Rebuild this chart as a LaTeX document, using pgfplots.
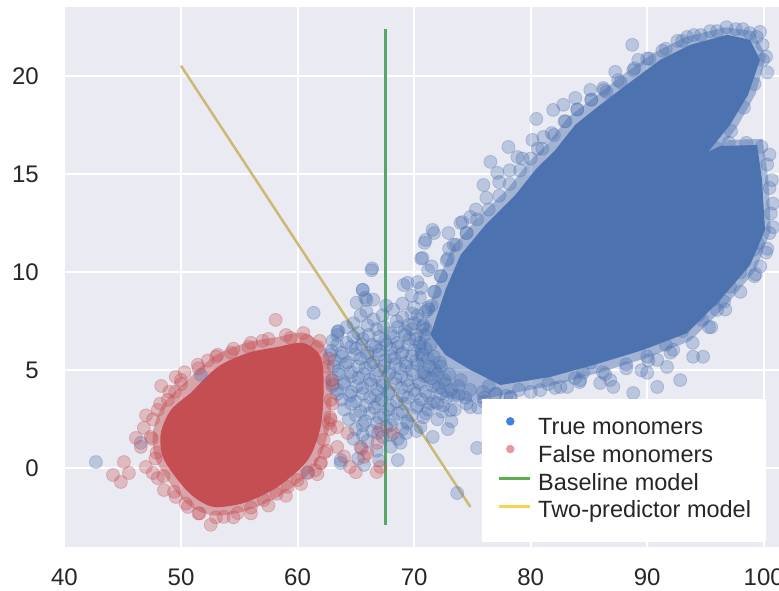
\documentclass[border=0pt]{standalone}
\usepackage{fontspec}
\setmainfont{Liberation Sans}
\usepackage{pgfplots}
\pgfplotsset{compat=1.18}
\definecolor{bgc}{HTML}{EAEAF2}
\definecolor{sbblue}{HTML}{4C72B0}
\definecolor{sbred}{HTML}{C44E52}
\definecolor{sbgreen}{HTML}{55A868}
\definecolor{sbyellow}{HTML}{CCB974}
\definecolor{lgblue}{HTML}{3F7FE6}
\definecolor{lgred}{HTML}{E8979A}
\definecolor{lggreen}{HTML}{5EAD4F}
\definecolor{lgyellow}{HTML}{F9D24F}
\definecolor{txt}{HTML}{262626}
\begin{document}
\begin{tikzpicture}
\begin{axis}[
  scale only axis, width=715pt, height=540.3pt,
  xmin=39.96, xmax=101.31, ymin=-4.03, ymax=23.53,
  axis background/.style={fill=bgc},
  axis line style={draw=none},
  major tick length=0pt,
  grid=major, major grid style={white, line width=2pt},
  xtick={40,50,...,100}, ytick={0,5,...,20},
  tick label style={font=\fontsize{24}{28}\selectfont, text=txt},
  /pgf/number format/assume math mode=true,
  xticklabel style={inner ysep=0pt, yshift=-21pt},
  yticklabel style={inner xsep=0pt, xshift=-25pt},
  legend cell align=left,
  legend style={at={(0.5846,0.0098)}, anchor=south west, fill=white, draw=none,
    inner xsep=15pt, inner ysep=16pt, row sep=0pt, column sep=7pt,
    font=\fontsize{23.5}{28}\selectfont, text=txt,
    nodes={inner xsep=0pt, inner ysep=3.6pt, text height=16pt, text depth=4.5pt},
    column 2/.style={nodes={text width=260pt}}},
]
\coordinate (sw) at (rel axis cs:0,0);
\coordinate (ne) at (rel axis cs:1,1);
% half-dense halo of true monomers
\addplot[forget plot, fill=sbblue, fill opacity=0.45, draw=none] coordinates {
(70.7,7.0) (71.9,9.4) (73.3,11.3) (75.5,12.8) (78.1,14.3) (79.8,15.6) (81.5,16.6) (83.2,17.9)
(85.4,18.9) (88.2,20.2) (90.6,21.2) (93.3,22.0) (96.7,22.5) (99.1,22.3) (100.2,21.0) (99.3,19.1)
(97.8,17.5) (96.6,16.5) (97.0,16.75) (99.9,16.8) (100.4,14.7) (100.6,12.1) (99.3,10.1) (96.6,8.2)
(93.7,6.5) (89.8,5.6) (86.0,4.9) (81.7,4.2) (77.3,3.7) (75.0,3.4) (72.5,3.6) (70.5,4.6) (70.0,6.0)
};
% dense core of true monomers
\addplot[forget plot, fill=sbblue, draw=none] coordinates {
(71.41,6.80) (72.69,9.10) (73.98,10.88) (76.12,12.41) (78.69,13.94) (80.40,15.22)
(82.12,16.24) (83.83,17.52) (85.97,18.54) (88.80,19.81) (91.11,20.83) (93.68,21.60)
(96.86,22.11) (98.83,21.85) (99.68,20.83) (98.65,19.05) (97.11,17.52) (95.23,16.14)
(96.26,16.44) (99.43,16.49) (99.85,14.71) (100.11,12.16) (98.83,10.37) (96.26,8.59)
(93.43,6.90) (89.66,6.04) (85.97,5.37) (81.69,4.66) (77.40,4.25) (74.83,5.02) (72.69,5.78)
};
% true monomers, individual points
\addplot[forget plot, only marks, mark=*, mark size=6.5pt,
  mark options={fill=sbblue, draw=sbblue, opacity=0.3, line width=0.8pt}] coordinates {
(66.5,8.6) (69.0,8.4) (70.5,8.7) (71.5,8.3)
(65.9,8.0) (68.2,8.1) (69.8,7.9) (71.0,8.0)
(64.8,7.4) (66.5,7.6) (68.5,7.5) (69.5,7.3) (70.5,7.6)
(63.5,7.0) (65.2,6.9) (66.8,7.1) (68.0,6.9) (69.2,7.0) (70.2,6.8) (71.0,7.1)
(63.0,6.5) (64.2,6.4) (65.6,6.6) (66.4,6.3) (67.5,6.5) (68.6,6.4) (69.6,6.6) (70.5,6.4)
(62.9,6.0) (63.8,5.9) (65.0,6.1) (66.0,5.9) (67.0,6.0) (68.0,6.1) (69.0,5.9) (70.0,6.0) (71.0,6.1)
(63.2,5.5) (64.3,5.4) (65.4,5.6) (66.5,5.4) (67.5,5.5) (68.3,5.6) (69.3,5.4) (70.2,5.5) (71.2,5.6) (72.2,5.4)
(63.5,5.0) (64.6,4.9) (65.8,5.1) (66.9,5.0) (67.9,4.9) (68.8,5.1) (69.8,5.0) (70.8,4.9) (71.8,5.0)
(63.0,4.5) (64.0,4.4) (65.2,4.6) (66.2,4.5) (67.3,4.4) (68.4,4.6) (69.4,4.5) (70.4,4.4) (71.5,4.6) (72.6,4.5)
(63.4,4.0) (64.6,3.9) (65.6,4.1) (66.8,4.0) (67.8,3.9) (68.9,4.1) (70.0,4.0) (71.0,3.9) (72.1,4.1) (73.2,4.0)
(63.8,3.5) (65.0,3.4) (66.2,3.6) (67.2,3.5) (68.5,3.4) (69.5,3.6) (70.6,3.5) (71.7,3.4) (72.8,3.6)
(64.0,3.0) (65.4,2.9) (66.6,3.1) (67.8,3.0) (69.0,2.9) (70.2,3.1) (71.2,3.0) (72.4,2.9)
(64.4,2.5) (65.8,2.4) (67.0,2.6) (68.2,2.5) (69.4,2.4) (70.8,2.6)
(65.0,2.0) (66.4,1.9) (67.6,2.1) (69.0,2.0) (70.2,1.9)
(64.8,1.5) (66.0,1.4) (67.3,1.6) (68.6,1.5)
(65.5,1.0) (66.8,0.9) (68.0,1.1)
(65.2,0.5) (67.0,0.4)
(67.6,8.3) (70.0,8.2)
(65.4,7.8) (67.3,7.8) (69.0,7.7) (70.3,7.8)
(64.2,7.2) (66.0,7.3) (67.4,7.2) (68.6,7.2) (69.8,7.1) (70.8,7.3)
(63.4,6.8) (64.8,6.7) (66.1,6.8) (67.0,6.7) (68.2,6.7) (69.2,6.8) (70.1,6.6) (70.9,6.8)
(63.4,6.3) (64.6,6.2) (65.5,6.3) (66.7,6.2) (67.6,6.3) (68.6,6.2) (69.5,6.3) (70.5,6.2) (71.4,6.3)
(62.8,5.8) (63.8,5.7) (64.9,5.8) (66.0,5.7) (67.0,5.8) (68.0,5.7) (68.9,5.8) (69.8,5.7) (70.7,5.8) (71.7,5.7)
(63.1,5.2) (64.1,5.3) (65.2,5.2) (66.3,5.3) (67.4,5.2) (68.4,5.3) (69.3,5.2) (70.3,5.3) (71.3,5.2) (72.3,5.2)
(63.5,4.8) (64.6,4.7) (65.7,4.8) (66.7,4.7) (67.8,4.8) (68.9,4.7) (69.9,4.8) (70.9,4.7) (72.0,4.8) (73.0,4.8)
(63.0,4.2) (64.0,4.3) (65.1,4.2) (66.3,4.3) (67.3,4.2) (68.4,4.3) (69.5,4.2) (70.5,4.3) (71.6,4.2) (72.7,4.3) (73.8,4.2)
(63.4,3.8) (64.5,3.7) (65.6,3.8) (66.7,3.7) (67.8,3.8) (69.0,3.7) (70.1,3.8) (71.2,3.7) (72.3,3.8) (73.4,3.7) (74.4,3.6)
(64.6,3.3) (65.8,3.2) (66.9,3.3) (68.0,3.2) (69.2,3.3) (70.3,3.2) (71.4,3.3) (72.5,3.2)
(65.0,2.7) (66.2,2.8) (67.4,2.7) (68.6,2.8) (69.8,2.7) (71.0,2.8)
(65.6,2.2) (66.8,2.3) (68.0,2.2) (69.4,2.3)
(65.6,1.7) (66.9,1.8) (68.0,1.7)
(70.0,7.4) (71.2,8.2) (71.8,9.0) (72.3,9.8) (72.8,10.6) (73.4,11.4) (70.6,9.2) (69.8,8.8) (71.5,10.3)
(73.5,3.0) (74.5,3.3) (75.5,3.1) (72.0,2.5) (73.2,2.4) (73.8,3.7) (74.8,4.0) (76.0,3.6) (76.4,4.2) (77.0,3.8) (78.3,3.6) (79.0,4.0)
(68.6,0.42) (63.7,0.42) (75.4,1.04) (73.7,-1.26) (74.83,3.12) (73.12,2.97) (70.55,2.11) (68.84,1.30)
(63.7,0.27) (65.7,0.17) (60.9,-0.2) (69.3,1.8) (71.6,1.6) (72.9,2.0) (72.0,3.33)
(42.7,0.32) (61.38,7.93) (63.43,6.96) (46.55,1.3) (51.7,4.77) (66.4,10.2) (65.6,9.1) (65.8,8.7)
(66.35,10.1) (65.58,9.1) (65.07,8.45) (65.92,8.59) (69.1,9.35) (70.3,9.5) (71.2,10.1) (70.6,10.7)
(71.7,12.0) (70.9,11.5) (69.44,9.46) (70.72,10.73) (70.98,11.65) (71.58,12.16) (72.95,12.0)
(74.15,12.56) (73.98,12.51) (74.83,12.82) (75.95,14.45) (76.55,15.63) (77.14,15.07) (78.09,16.39)
(78.86,15.88) (80.15,16.75) (80.49,17.82) (81.09,16.9) (81.94,18.28) (82.8,18.54) (83.83,18.89)
(85.12,19.3) (86.23,19.4) (87.26,20.22) (88.72,21.6) (89.23,20.83) (93.43,22.0) (99.68,22.26) (99.94,20.83)
(73.0,11.2) (74.5,12.0) (75.3,13.2) (76.2,13.8) (77.3,14.6) (78.2,15.2) (79.3,15.8) (80.6,16.3)
(81.8,17.1) (82.9,17.7) (84.0,18.3) (85.2,18.8) (86.5,19.2) (87.7,19.7) (88.9,20.4) (90.2,20.9)
(91.6,21.4) (93.0,21.8) (94.6,22.1) (96.0,22.3) (97.6,22.4) (98.8,22.2) (99.9,21.6) (100.3,20.2)
(99.2,19.6) (98.3,18.4) (97.2,17.2) (96.0,16.3) (97.0,16.6) (98.5,16.6) (99.8,16.4)
(100.3,15.5) (100.5,14.3) (100.6,13.0) (100.5,12.0) (100.2,11.0) (99.7,10.3) (99.2,9.8)
(92.83,4.50) (93.94,5.69) (94.8,5.69) (96.0,8.08) (91.7,5.17) (90.86,4.15) (88.8,3.84) (86.83,4.50)
(84.5,4.87) (83.14,4.15) (85.12,5.38) (90.0,4.87) (92.23,6.04) (97.11,9.26) (99.08,11.14) (94.71,7.57)
(90.86,5.53) (87.09,4.15) (85.97,4.35) (84.26,4.50) (82.55,4.15) (80.83,3.99) (78.26,3.64)
(81.5,4.3) (83.8,4.6) (86.2,4.9) (88.2,5.3) (90.0,5.7) (91.6,6.3) (93.0,7.0) (94.4,7.8) (95.7,8.6)
(97.0,9.6) (98.3,10.6) (77.0,3.8) (76.0,3.4) (89.5,5.0) (95.5,7.2) (96.6,8.5) (98.0,10.0) (99.5,11.5)
(70.7,7.2) (71.2,8.1) (71.7,9.0) (72.3,9.8) (72.9,10.7) (73.6,11.4) (74.5,12.0) (75.4,12.7)
(76.4,13.2) (77.3,13.9) (78.2,14.5) (79.1,15.2) (80.0,15.8) (81.0,16.3) (82.0,17.0) (83.0,17.7)
(84.0,18.3) (85.2,18.8) (86.3,19.3) (87.5,19.8) (88.8,20.3) (90.0,20.9) (91.3,21.3) (92.6,21.8)
(94.0,22.1) (95.4,22.3) (96.8,22.5) (98.2,22.4) (99.4,22.0) (100.2,21.0)
(99.3,9.9) (98.0,9.0) (96.7,8.1) (95.3,7.2) (93.9,6.4) (92.0,5.9) (90.1,5.5) (88.2,5.1)
(86.4,4.8) (84.2,4.4) (82.1,4.1) (80.0,3.9) (77.9,3.7) (75.9,3.9) (74.0,4.5)
(100.5,16.0) (100.7,14.7) (100.8,13.5) (100.8,12.3) (100.3,11.2)
};
% half-dense halo of false monomers
\addplot[forget plot, fill=sbred, fill opacity=0.45, draw=none, smooth] coordinates {
(50.2,4.3) (52.8,5.7) (55.6,6.4) (58.3,6.7) (60.6,6.9) (62.5,6.0) (62.9,4.2) (62.7,2.0)
(61.4,0.0) (58.5,-1.4) (55.4,-2.2) (52.7,-2.4) (50.7,-1.9) (49.2,-0.9) (47.8,0.5) (47.6,1.9)
(48.5,3.3) (50.2,4.3)
};
% dense core of false monomers
\addplot[forget plot, fill=sbred, draw=none, smooth] coordinates {
(50.84,3.84) (53.15,5.17) (55.72,5.88) (58.29,6.19) (60.52,6.39) (61.98,5.68) (62.24,4.15)
(61.98,2.11) (60.87,0.42) (58.29,-0.95) (55.38,-1.77) (52.81,-1.97) (51.10,-1.46) (49.73,-0.60)
(48.44,0.58) (48.27,1.80) (49.13,2.97) (50.84,3.84)
};
% false monomers, individual points
\addplot[forget plot, only marks, mark=*, mark size=6.5pt,
  mark options={fill=sbred, draw=sbred, opacity=0.3, line width=0.8pt}] coordinates {
(58.12,7.57) (59.41,6.65) (57.0,6.5) (55.8,6.2) (53.15,5.79) (51.44,5.28) (52.3,5.5) (54.3,5.9)
(49.55,4.66) (50.3,4.9) (48.87,3.49) (48.01,2.98) (49.5,3.9) (46.81,2.06) (46.13,1.55) (46.55,1.09)
(47.4,1.6) (46.98,0.07) (47.58,-0.24) (45.10,0.32) (44.16,-0.34) (44.84,-0.70) (45.53,-0.24)
(48.53,-1.11) (49.55,-1.46) (50.58,-1.97) (51.5,-2.3) (52.55,-2.88) (53.66,-2.48) (54.86,-2.28)
(56.0,-2.0) (57.09,-1.62) (58.2,-1.3) (59.15,-0.95) (60.0,-0.6) (60.87,-0.24) (61.98,0.27)
(62.5,0.9) (62.24,1.45) (62.84,2.47) (62.84,3.49) (63.0,4.3) (62.58,5.17) (61.72,6.19) (60.8,6.5)
(47.9,0.8) (48.0,-0.5) (47.0,2.7) (48.3,4.2) (50.0,4.3)
(64.3,1.8) (66.0,0.78) (67.1,1.96) (66.85,1.3) (65.4,1.09) (67.1,0.07) (62.0,0.27) (63.4,2.1)
(62.8,2.6) (66.8,-0.19) (65.7,0.58) (68.2,1.80) (64.5,0.07) (63.4,1.09) (62.67,2.30) (61.7,-0.3)
(64.0,0.6) (65.0,-0.2)
(50.0,4.5) (51.5,5.1) (53.0,5.7) (54.5,6.1) (56.0,6.4) (57.5,6.6) (59.0,6.8) (60.5,6.9) (61.9,6.5)
(62.7,5.6) (62.9,4.5) (63.0,3.3) (62.8,2.0) (62.3,0.8) (61.5,-0.1) (60.3,-0.8) (59.0,-1.4)
(57.5,-1.9) (56.0,-2.3) (54.5,-2.5) (53.0,-2.5) (51.6,-2.3) (50.4,-1.8) (49.4,-1.2) (48.5,-0.4)
(47.8,0.5) (47.5,1.5) (47.6,2.5) (48.2,3.3) (49.0,3.9)
};
% models
\addplot[forget plot, sbgreen, line width=2.5pt] coordinates {(67.55,-2.89) (67.55,22.41)};
\addplot[forget plot, sbyellow, line width=2.5pt] coordinates {(50,20.53) (74.83,-1.97)};
% legend
\addlegendimage{legend image code/.code={\path (0pt,0pt) (31pt,0pt); \fill[lgblue] (11.6pt,7.5pt) circle (4pt);}}
\addlegendentry{True monomers}
\addlegendimage{legend image code/.code={\path (0pt,0pt) (31pt,0pt); \fill[lgred] (11.6pt,7.5pt) circle (4pt);}}
\addlegendentry{False monomers}
\addlegendimage{legend image code/.code={\draw[lggreen, line width=3pt] (0pt,5.5pt) -- (31pt,5.5pt);}}
\addlegendentry{Baseline model}
\addlegendimage{legend image code/.code={\draw[lgyellow, line width=3pt] (0pt,5.5pt) -- (31pt,5.5pt);}}
\addlegendentry{Two-predictor model}
\end{axis}
\pgfresetboundingbox
\path[use as bounding box] ([xshift=-64pt,yshift=-42.7pt]sw) rectangle ([yshift=7pt]ne);
\end{tikzpicture}
\end{document}
